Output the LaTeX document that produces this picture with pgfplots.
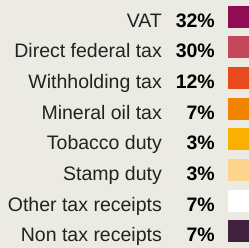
\documentclass[border=0pt]{standalone}
\usepackage{pgfplots}
\pgfplotsset{compat=1.18}
\usepackage{pgfplotstable}
\usepackage{fontspec}
\setmainfont{Liberation Sans}
\definecolor{bg}{HTML}{EBEBE4}
\definecolor{cVAT}{HTML}{8F0D50}
\definecolor{cDFT}{HTML}{C4475C}
\definecolor{cWHT}{HTML}{E84A1E}
\definecolor{cMOT}{HTML}{F08400}
\definecolor{cTOB}{HTML}{FAB000}
\definecolor{cSTD}{HTML}{FCD48C}
\definecolor{cOTR}{HTML}{FFFFFF}
\definecolor{cNTR}{HTML}{42203F}
\definecolor{txt}{HTML}{222222}
\pgfplotstableread[col sep=comma]{
idx,label,pct
0,VAT,32\%
1,Direct federal tax,30\%
2,Withholding tax,12\%
3,Mineral oil tax,7\%
4,Tobacco duty,3\%
5,Stamp duty,3\%
6,Other tax receipts,7\%
7,Non tax receipts,7\%
}\shares
\begin{document}
\begin{tikzpicture}
\begin{axis}[
  scale only axis, width=249bp, height=248bp,
  xmin=0, xmax=249, ymin=-0.5375, ymax=7.541, y dir=reverse,
  axis line style={draw=none}, ticks=none,
  axis background/.style={fill=bg},
  clip=false,
  every node near coord/.append style={font=\fontsize{19.5bp}{23bp}\selectfont, inner sep=0pt, anchor=base east, yshift=-10.5bp},
]
\addplot[draw=none, nodes near coords, point meta=explicit symbolic,
  nodes near coords style={text=txt}]
  table[x expr=162, y=idx, meta=label] {\shares};
\addplot[draw=none, nodes near coords, point meta=explicit symbolic,
  nodes near coords style={text=black, font=\fontsize{19.5bp}{23bp}\selectfont\bfseries}]
  table[x expr=215, y=idx, meta=pct] {\shares};
\addplot[only marks, mark=square*, mark size=10.5bp, mark options={fill=cVAT, draw=cVAT, line width=0pt}] coordinates {(238.5,0)};
\addplot[only marks, mark=square*, mark size=10.5bp, mark options={fill=cDFT, draw=cDFT, line width=0pt}] coordinates {(238.5,1)};
\addplot[only marks, mark=square*, mark size=10.5bp, mark options={fill=cWHT, draw=cWHT, line width=0pt}] coordinates {(238.5,2)};
\addplot[only marks, mark=square*, mark size=10.5bp, mark options={fill=cMOT, draw=cMOT, line width=0pt}] coordinates {(238.5,3)};
\addplot[only marks, mark=square*, mark size=10.5bp, mark options={fill=cTOB, draw=cTOB, line width=0pt}] coordinates {(238.5,4)};
\addplot[only marks, mark=square*, mark size=10.5bp, mark options={fill=cSTD, draw=cSTD, line width=0pt}] coordinates {(238.5,5)};
\addplot[only marks, mark=square*, mark size=10.5bp, mark options={fill=cOTR, draw=cOTR, line width=0pt}] coordinates {(238.5,6)};
\addplot[only marks, mark=square*, mark size=10.5bp, mark options={fill=cNTR, draw=cNTR, line width=0pt}] coordinates {(238.5,7)};
\end{axis}
\end{tikzpicture}
\end{document}
